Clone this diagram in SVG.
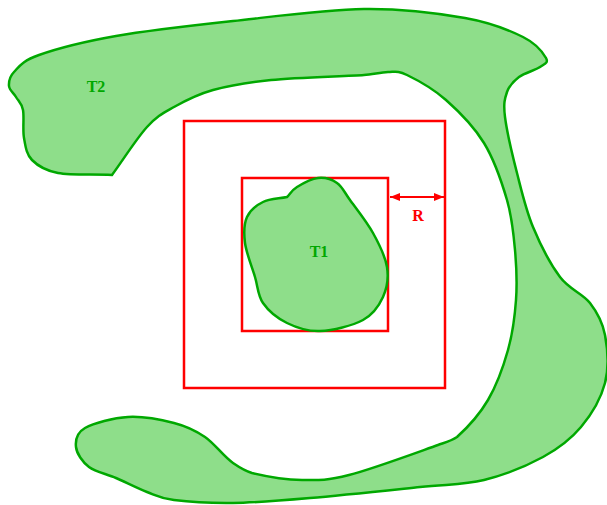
<svg xmlns="http://www.w3.org/2000/svg" width="607" height="505" viewBox="0 0 607 505">
<style>
.region{fill:#8ede8a;stroke:#00a800;stroke-width:2.5;stroke-linejoin:round}
.box{fill:none;stroke:#ff0000;stroke-width:2.5}
.lbl{font-family:"Liberation Serif",serif;font-weight:bold;font-size:16px;text-anchor:middle}
.g{fill:#00a800}
.r{fill:#ff0000}
</style>
<defs>
<marker id="ah" viewBox="0 0 10 8" refX="10" refY="4" markerWidth="10" markerHeight="8" markerUnits="userSpaceOnUse" orient="auto-start-reverse">
<path d="M0,0 L10,4 L0,8 Z" fill="#ff0000"/>
</marker>
</defs>
<rect width="607" height="505" fill="#ffffff"/>
<g id="T2">
<path class="region" d="M112,175 C94,174 71.3,175.5 58,173 C44.7,170.5 37.7,165.8 32,160 C26.3,154.2 25.5,146.3 24,138 C22.5,129.7 24.3,116.8 23,110 C21.7,103.2 18.3,101 16,97 C13.7,93 9.3,90.2 9,86 C8.7,81.8 9,77.2 14,72 C19,66.8 22,61 39,55 C56,49 83.7,41.7 116,36 C148.3,30.3 191.7,25.5 233,21 C274.3,16.5 325.3,9.5 364,9 C402.7,8.5 438.5,13.3 465,18 C491.5,22.7 509.5,30.3 523,37 C536.5,43.7 543.2,53 546,58 C548.8,63 544.5,63.8 540,67 C535.5,70.2 524.5,72.8 519,77 C513.5,81.2 509.3,85.3 507,92 C504.7,98.7 503.3,103.5 505,117 C506.7,130.5 512.3,154.7 517,173 C521.7,191.3 525.8,209.7 533,227 C540.2,244.3 550.5,264.3 560,277 C569.5,289.7 582.5,293.3 590,303 C597.5,312.7 602.5,321.7 605,335 C607.5,348.3 609,367.7 605,383 C601,398.3 591.3,414.7 581,427 C570.7,439.3 559.2,448.2 543,457 C526.8,465.8 504.5,475 484,480 C463.5,485 449,484 420,487 C391,490 341.2,495.3 310,498 C278.8,500.7 255.7,502.7 233,503 C210.3,503.3 188.3,501.8 174,500 C159.7,498.2 156.7,495.7 147,492 C137.3,488.3 125.7,482.2 116,478 C106.3,473.8 95.7,472.2 89,467 C82.3,461.8 76.7,453.5 76,447 C75.3,440.5 76.3,433 85,428 C93.7,423 113.2,417.8 128,417 C142.8,416.2 161.2,419.7 174,423 C186.8,426.3 195.2,430.3 205,437 C214.8,443.7 223,456 233,463 C241,468.5 245,471 252,473 C263.5,475.8 285.8,479.7 302,480 C318.2,480.3 326.3,480.8 349,475 C371.7,469.2 420,451.3 438,445 C445,442.5 451,441 457,437 C465.3,429.5 479.5,414.5 488,400 C496.5,385.5 503.3,366.7 508,350 C512.7,333.3 514.8,316.7 516,300 C517.2,283.3 516.5,266.7 515,250 C513.5,233.3 512.2,217.8 507,200 C501.8,182.2 494.2,159.7 484,143 C473.8,126.3 458.8,111.3 446,100 C433.2,88.7 416.7,79.7 407,75 C397.3,70.3 395.2,72 388,72 C380,72.5 372,74.5 364,75 C344.5,76.3 296.2,77.5 271,80 C245.8,82.5 229.2,85.5 213,90 C196.8,94.5 185,100.8 174,107 C163,113.2 157.3,115.7 147,127 C136.7,138.3 123.7,159 112,175 Z"/>
<text class="lbl g" x="96" y="92">T2</text>
</g>
<g id="outer-box">
<rect class="box" x="184" y="121" width="261" height="267"/>
</g>
<g id="inner-box">
<rect class="box" x="242" y="178" width="146" height="153"/>
</g>
<g id="T1">
<path class="region" d="M287,197 C290.3,193.7 291.8,190.2 297,187 C302.2,183.8 311.3,178.7 318,178 C324.7,177.3 331.7,179.3 337,183 C342.3,186.7 344,191.7 350,200 C356,208.3 366.8,221.8 373,233 C379.2,244.2 385.3,256.3 387,267 C388.7,277.7 387,288.2 383,297 C379,305.8 373.5,314.3 363,320 C352.5,325.7 332.7,330.5 320,331 C307.3,331.5 296.5,327.7 287,323 C277.5,318.3 268.3,310.7 263,303 C257.7,295.3 258,287 255,277 C252,267 246.3,253 245,243 C243.7,233 244,223.8 247,217 C250,210.2 256.3,205.3 263,202 C269.7,198.7 279,198.7 287,197 Z"/>
<text class="lbl g" x="319" y="257">T1</text>
</g>
<g id="connectors">
<line x1="390" y1="197" x2="444" y2="197" stroke="#ff0000" stroke-width="2" marker-start="url(#ah)" marker-end="url(#ah)"/>
<text class="lbl r" x="418" y="221">R</text>
</g>
</svg>
